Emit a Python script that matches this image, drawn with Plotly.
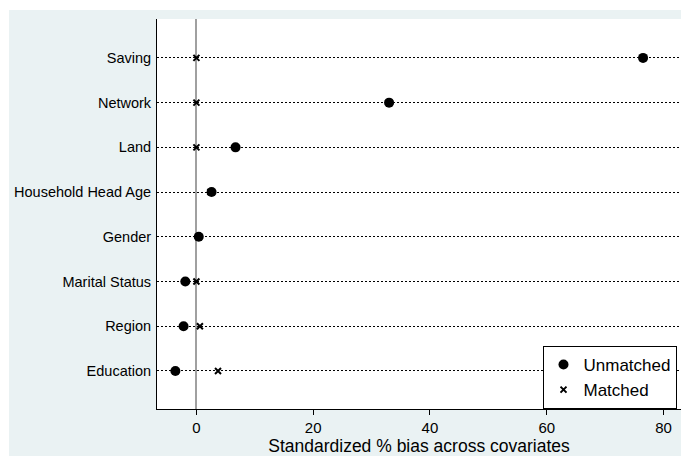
import plotly.graph_objects as go

# Data
covariates = ["Saving", "Network", "Land", "Household Head Age",
              "Gender", "Marital Status", "Region", "Education"]
unmatched = [76.5, 33.0, 6.7, 2.6, 0.4, -1.9, -2.2, -3.6]
matched = [0.0, 0.0, 0.0, 2.4, 0.4, 0.0, 0.6, 3.7]
x_ticks = [0, 20, 40, 60, 80]

FONT = "Liberation Sans, Arial, sans-serif"
BG = "#EAF2F3"

fig = go.Figure()
fig.add_trace(go.Scatter(
    x=unmatched, y=covariates, mode="markers", name="Unmatched",
    marker=dict(symbol="circle", size=10, color="black"),
))
fig.add_trace(go.Scatter(
    x=matched, y=covariates, mode="markers", name="Matched",
    marker=dict(symbol="x-thin", size=6, color="black",
                line=dict(width=2, color="black")),
))

# Layout geometry (pixels)
W, H = 681, 456
L, R, T, B = 157, 0, 19, 47
pw = W - L - R
ph = H - T - B

fig.update_layout(
    width=W, height=H,
    margin=dict(l=L, r=R, t=T, b=B, pad=0),
    paper_bgcolor=BG,
    plot_bgcolor="white",
    font=dict(family=FONT, color="black"),
    showlegend=True,
    legend=dict(
        x=(609.5 - L) / pw, xanchor="center",
        y=(409 - 377.5) / ph, yanchor="middle",
        bgcolor="white", bordercolor="black", borderwidth=1,
        font=dict(size=17, family=FONT, color="black"),
        itemwidth=30, tracegroupgap=0,
    ),
    xaxis=dict(
        range=[-6.75, 83.0],
        tickvals=x_ticks,
        ticks="outside", ticklen=5, tickwidth=1, tickcolor="black",
        tickfont=dict(size=15, family=FONT, color="black"),
        showline=True, linecolor="black", linewidth=1,
        showgrid=False,
        zeroline=True, zerolinecolor="#A0A0A0", zerolinewidth=1.5,
        title=dict(text="Standardized % bias across covariates",
                   font=dict(size=17.5, family=FONT, color="black"),
                   standoff=2),
        automargin=False,
    ),
    yaxis=dict(
        type="category",
        categoryorder="array",
        categoryarray=covariates[::-1],
        range=[-0.85, 7.87],
        ticks="",
        ticklabelstandoff=2,
        tickfont=dict(size=14.5, family=FONT, color="black"),
        showline=True, linecolor="black", linewidth=1,
        showgrid=True, gridcolor="black", gridwidth=1.2,
        griddash="1.5px,2.5px",
        zeroline=False,
        automargin=False,
    ),
    shapes=[
        # white strips outside the bluish graph region (top and left)
        dict(type="rect", xref="paper", yref="paper",
             x0=(0 - L) / pw - 0.01, x1=(9 - L) / pw,
             y0=-B / ph - 0.01, y1=1 + T / ph + 0.01,
             fillcolor="white", line=dict(width=0), layer="below"),
        dict(type="rect", xref="paper", yref="paper",
             x0=(0 - L) / pw - 0.01, x1=1.01,
             y0=1 + (T - 10) / ph, y1=1 + T / ph + 0.01,
             fillcolor="white", line=dict(width=0), layer="below"),
    ],
)

fig.write_html(
    "out.html",
    config={"displayModeBar": False},
    post_script="document.body.style.margin='0';"
                "document.body.style.padding='0';"
                "document.body.style.overflow='hidden';",
)
